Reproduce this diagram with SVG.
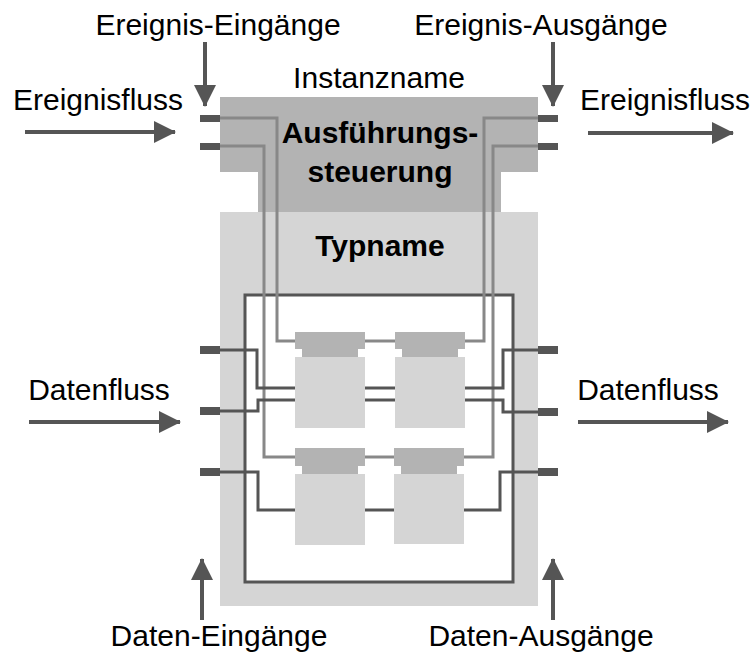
<svg xmlns="http://www.w3.org/2000/svg" width="751" height="657" viewBox="0 0 751 657">
  <defs>
    <marker id="arr" viewBox="0 0 22 22" refX="21" refY="11" markerWidth="22" markerHeight="22" markerUnits="userSpaceOnUse" orient="auto">
      <path d="M0,0 L22,11 L0,22 Z" fill="#555"/>
    </marker>
    <style>
      .lbl { font-family: "Liberation Sans", Arial, sans-serif; font-size: 30px; fill: #000; }
      .bold { font-weight: bold; }
      .port { fill: #555; }
      .head { fill: #b3b3b3; }
      .body { fill: #d5d5d5; }
      .ev { fill: none; stroke: #888; stroke-width: 3; }
      .dat { fill: none; stroke: #555; stroke-width: 3; }
      .flow { fill: none; stroke: #555; stroke-width: 4; marker-end: url(#arr); }
    </style>
  </defs>

  <rect width="751" height="657" fill="#fff"/>

  <!-- function block type: body -->
  <g id="type-body">
    <rect class="body" x="220" y="212" width="318" height="394"/>
    <text class="lbl bold" x="380" y="256" text-anchor="middle">Typname</text>
  </g>

  <!-- execution control head -->
  <g id="execution-control">
    <polygon class="head" points="220,97 538,97 538,172 501,172 501,212 258,212 258,172 220,172"/>
    <text class="lbl" x="379" y="88" text-anchor="middle">Instanzname</text>
    <text class="lbl bold" x="380" y="143" text-anchor="middle">Ausführungs-</text>
    <text class="lbl bold" x="380" y="182" text-anchor="middle">steuerung</text>
  </g>

  <!-- internal network frame -->
  <g id="network">
    <rect x="245" y="295" width="268" height="287" fill="#fff" stroke="#555" stroke-width="3"/>
  </g>

  <!-- interface ports -->
  <g id="ports">
    <rect class="port" x="200" y="115" width="20" height="7"/>
    <rect class="port" x="200" y="143" width="20" height="7"/>
    <rect class="port" x="538" y="115" width="20" height="7"/>
    <rect class="port" x="538" y="143" width="20" height="7"/>
    <rect class="port" x="200" y="346" width="20" height="8"/>
    <rect class="port" x="200" y="407" width="20" height="8"/>
    <rect class="port" x="200" y="468" width="20" height="8"/>
    <rect class="port" x="538" y="346" width="20" height="8"/>
    <rect class="port" x="538" y="408" width="20" height="8"/>
    <rect class="port" x="538" y="468" width="20" height="8"/>
  </g>

  <!-- connections -->
  <g id="connectors">
    <!-- event links -->
    <polyline class="ev" points="220,118 277,118 277,341 295,341"/>
    <polyline class="ev" points="365,341 395,341"/>
    <polyline class="ev" points="465,341 484,341 484,118 538,118"/>
    <polyline class="ev" points="220,146 264,146 264,457 295,457"/>
    <polyline class="ev" points="365,457 394,457"/>
    <polyline class="ev" points="464,457 493,457 493,146 538,146"/>
    <!-- data links -->
    <polyline class="dat" points="220,350 257,350 257,388 295,388"/>
    <polyline class="dat" points="220,411 258,411 258,400 295,400"/>
    <polyline class="dat" points="220,472 258,472 258,510 295,510"/>
    <polyline class="dat" points="365,388 395,388"/>
    <polyline class="dat" points="365,400 395,400"/>
    <polyline class="dat" points="365,510 394,510"/>
    <polyline class="dat" points="465,388 503,388 503,350 538,350"/>
    <polyline class="dat" points="465,400 503,400 503,412 538,412"/>
    <polyline class="dat" points="464,510 500,510 500,472 538,472"/>
    <!-- flow arrows -->
    <line class="flow" x1="25" y1="132" x2="175" y2="132"/>
    <line class="flow" x1="588" y1="133" x2="733" y2="133"/>
    <line class="flow" x1="29" y1="422" x2="180" y2="422"/>
    <line class="flow" x1="578" y1="422" x2="728" y2="422"/>
    <line class="flow" x1="205" y1="42" x2="205" y2="106"/>
    <line class="flow" x1="553" y1="42" x2="553" y2="106"/>
    <line class="flow" x1="202" y1="620" x2="202" y2="559"/>
    <line class="flow" x1="553" y1="620" x2="553" y2="559"/>
  </g>

  <!-- inner function blocks -->
  <g id="fb1">
    <rect class="head" x="295" y="332" width="70" height="17"/>
    <rect class="head" x="302" y="349" width="56" height="8"/>
    <rect class="body" x="295" y="357" width="70" height="71"/>
  </g>
  <g id="fb2">
    <rect class="head" x="395" y="332" width="70" height="17"/>
    <rect class="head" x="402" y="349" width="56" height="8"/>
    <rect class="body" x="395" y="357" width="70" height="71"/>
  </g>
  <g id="fb3">
    <rect class="head" x="295" y="448" width="70" height="18"/>
    <rect class="head" x="302" y="466" width="56" height="8"/>
    <rect class="body" x="295" y="474" width="70" height="71"/>
  </g>
  <g id="fb4">
    <rect class="head" x="394" y="448" width="70" height="18"/>
    <rect class="head" x="401" y="466" width="56" height="8"/>
    <rect class="body" x="394" y="474" width="70" height="70"/>
  </g>

  <!-- labels -->
  <g id="labels">
    <text class="lbl" x="218" y="35" text-anchor="middle">Ereignis-Eingänge</text>
    <text class="lbl" x="541" y="35" text-anchor="middle">Ereignis-Ausgänge</text>
    <text class="lbl" x="98" y="110" text-anchor="middle">Ereignisfluss</text>
    <text class="lbl" x="665" y="110" text-anchor="middle">Ereignisfluss</text>
    <text class="lbl" x="99" y="400" text-anchor="middle">Datenfluss</text>
    <text class="lbl" x="648" y="400" text-anchor="middle">Datenfluss</text>
    <text class="lbl" x="219" y="646" text-anchor="middle">Daten-Eingänge</text>
    <text class="lbl" x="541" y="646" text-anchor="middle">Daten-Ausgänge</text>
  </g>
</svg>
